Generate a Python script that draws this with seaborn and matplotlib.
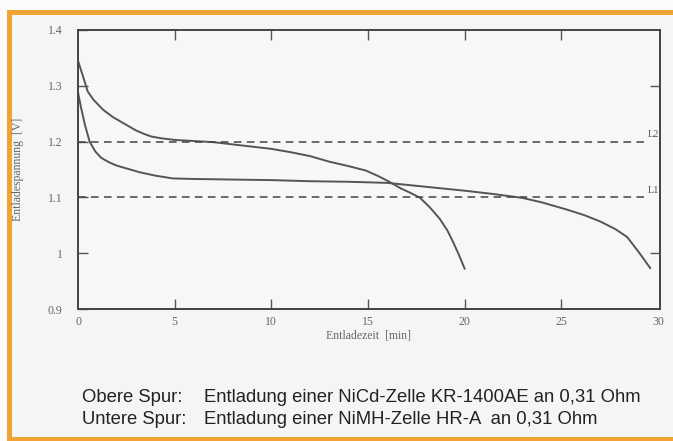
import seaborn as sns
import matplotlib.pyplot as plt
from matplotlib.patches import Rectangle

# Discharge curves (time in min, voltage in V)
nicd_t = [0, 0.25, 0.5, 0.8, 1.3, 1.8, 2.2, 2.6, 3.0, 3.4, 3.8, 4.3, 5.0, 6.0, 7.0, 8.0,
          9.0, 10.0, 11.0, 12.0, 13.0, 14.0, 14.9, 15.6, 16.1, 16.7, 17.2, 17.7, 18.2,
          18.7, 19.1, 19.4, 19.7, 20.0]
nicd_v = [1.345, 1.318, 1.290, 1.275, 1.257, 1.244, 1.236, 1.228, 1.220, 1.214, 1.209,
          1.206, 1.203, 1.201, 1.199, 1.195, 1.191, 1.187, 1.181, 1.174, 1.164, 1.156,
          1.148, 1.137, 1.128, 1.116, 1.108, 1.099, 1.082, 1.062, 1.041, 1.020, 0.997,
          0.972]

nimh_t = [0, 0.15, 0.36, 0.6, 0.9, 1.2, 1.6, 2.0, 2.7, 3.2, 4.0, 4.9, 6.0, 8.0, 10.0,
          12.0, 14.0, 16.0, 18.0, 20.0, 21.5, 23.0, 24.0, 25.3, 26.2, 27.0, 27.8, 28.4,
          29.0, 29.6]
nimh_v = [1.288, 1.262, 1.230, 1.200, 1.182, 1.171, 1.163, 1.157, 1.150, 1.145, 1.139,
          1.134, 1.133, 1.132, 1.131, 1.129, 1.128, 1.126, 1.119, 1.112, 1.106, 1.099,
          1.091, 1.078, 1.068, 1.057, 1.043, 1.029, 1.002, 0.973]

limit_levels = [1.2, 1.1]
limit_names = ["L2", "L1"]

x_ticks = [0, 5, 10, 15, 20, 25, 30]
y_ticks = [0.9, 1.0, 1.1, 1.2, 1.3, 1.4]
y_ticklabels = ["0.9", "1", "1.1", "1.2", "1.3", "1.4"]

caption_heads = ["Obere Spur:", "Untere Spur:"]
caption_texts = ["Entladung einer NiCd-Zelle KR-1400AE an 0,31 Ohm",
                 "Entladung einer NiMH-Zelle HR-A  an 0,31 Ohm"]

sns.set_style("ticks")
plt.rcParams["font.family"] = ["Liberation Serif", "DejaVu Serif"]

W, H = 673, 441
fig = plt.figure(figsize=(W / 100, H / 100), dpi=100, facecolor="#fbfbfb")

# orange frame, kept behind the axes
fig.patches.append(Rectangle((8.5 / W, 2 / H), 1.0, (429.5 - 2) / H,
                             transform=fig.transFigure, fill=True,
                             facecolor="#f5f5f4", edgecolor="#f0a232",
                             linewidth=3.6, zorder=-5))

ax = fig.add_axes([78 / W, (H - 309) / H, 582 / W, 279 / H])
ax.set_zorder(2)
ax.set_facecolor("#f7f7f6")

line_col = "#555555"
sns.lineplot(x=nicd_t, y=nicd_v, ax=ax, color=line_col, lw=1.4, estimator=None, sort=False)
sns.lineplot(x=nimh_t, y=nimh_v, ax=ax, color=line_col, lw=1.4, estimator=None, sort=False)

for lv, nm in zip(limit_levels, limit_names):
    ax.hlines(lv, 0, 29.5, colors="#444444", linestyles=(0, (5, 3.5)), lw=1.1)
    ax.text(29.75, lv + 0.004, nm, fontsize=7.5, color="#555555",
            ha="center", va="bottom")

ax.set_xlim(0, 30.1)
ax.set_ylim(0.9, 1.4)
ax.set_xticks(x_ticks)
ax.set_xticklabels([str(t) for t in x_ticks])
ax.set_yticks(y_ticks)
ax.set_yticklabels(y_ticklabels)
ax.tick_params(axis="both", direction="in", length=7, width=1.0, color="#555555",
               labelcolor="#666666", labelsize=8.5, top=True)
ax.tick_params(axis="x", pad=5)
ax.tick_params(axis="y", pad=11)
# no tick marks at the axis ends
for t in (ax.xaxis.get_major_ticks()[0], ax.xaxis.get_major_ticks()[-1]):
    t.tick1line.set_visible(False)
    t.tick2line.set_visible(False)

sec = ax.secondary_yaxis("right")
sec.set_yticks([1.0, 1.3])
sec.tick_params(direction="in", length=7, width=1.0, color="#555555", labelright=False)
sec.spines["right"].set_visible(False)

for sp in ax.spines.values():
    sp.set_color("#444444")
    sp.set_linewidth(1.4)

ax.set_xlabel("Entladezeit  [min]", fontsize=8.5, color="#666666")
ax.set_ylabel("Entladespannung  [V]", fontsize=8.5, color="#666666")
ax.xaxis.set_label_coords(0.5, -0.072)
ax.yaxis.set_label_coords(-0.092, 0.5)

for i, (hd, tx) in enumerate(zip(caption_heads, caption_texts)):
    yy = 1 - (397 + 23 * i) / H
    fig.text(82 / W, yy, hd, fontsize=13.3, color="#222222", va="center",
             family=["Liberation Sans", "DejaVu Sans"])
    fig.text(204 / W, yy, tx, fontsize=13.3, color="#222222", va="center",
             family=["Liberation Sans", "DejaVu Sans"])

fig.savefig("out.png", dpi=100, facecolor=fig.get_facecolor())
plt.close(fig)
